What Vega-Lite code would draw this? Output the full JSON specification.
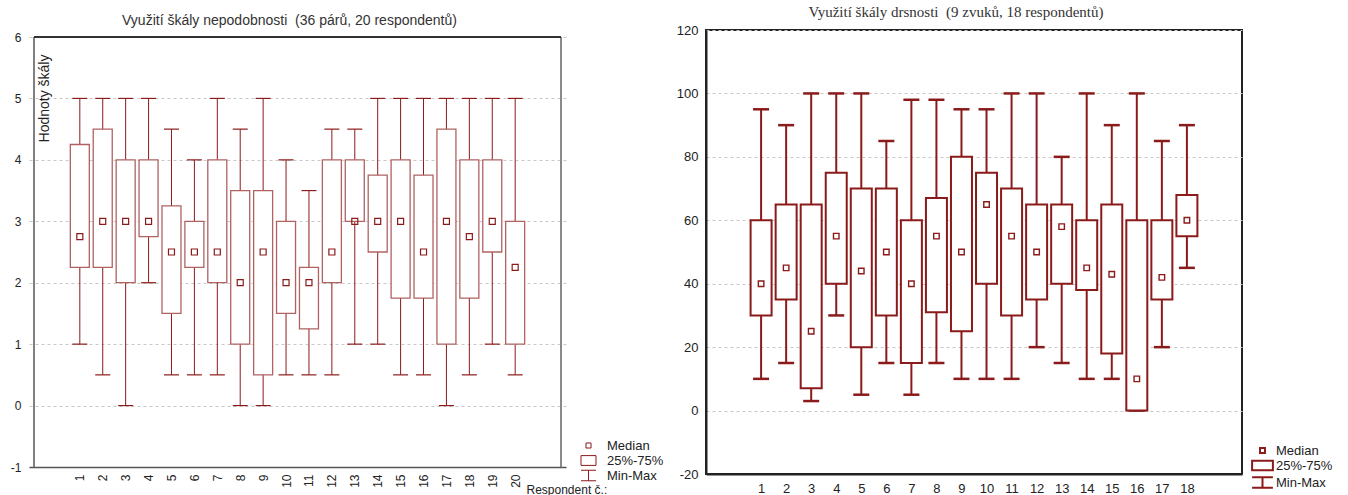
{
  "$schema": "https://vega.github.io/schema/vega-lite/v6.json",
  "padding": {"left": 10, "top": 4, "right": 5, "bottom": 0},
  "spacing": 11,
  "background": "white",
  "config": {"font": "Liberation Sans", "title": {"font": "Liberation Sans"}, "axis": {"labelFont": "Liberation Sans", "titleFont": "Liberation Sans"}},
  "resolve": {"scale": {"shape": "independent"}, "legend": {"shape": "independent"}},
  "hconcat": [
    {
      "width": 537,
      "height": 437,
      "title": {"text": "Využití škály nepodobnosti\u00a0\u00a0(36 párů, 20 respondentů)", "font": "Liberation Sans", "fontSize": 14, "fontWeight": "normal", "color": "#333", "offset": 2, "dx": -8},
      "view": {"stroke": null},
      "data": {"values": [
        {"r": 1, "min": 1, "q1": 2.25, "med": 2.75, "q3": 4.25, "max": 5},
        {"r": 2, "min": 0.5, "q1": 2.25, "med": 3, "q3": 4.5, "max": 5},
        {"r": 3, "min": 0, "q1": 2, "med": 3, "q3": 4, "max": 5},
        {"r": 4, "min": 2, "q1": 2.75, "med": 3, "q3": 4, "max": 5},
        {"r": 5, "min": 0.5, "q1": 1.5, "med": 2.5, "q3": 3.25, "max": 4.5},
        {"r": 6, "min": 0.5, "q1": 2.25, "med": 2.5, "q3": 3, "max": 4},
        {"r": 7, "min": 0.5, "q1": 2, "med": 2.5, "q3": 4, "max": 5},
        {"r": 8, "min": 0, "q1": 1, "med": 2, "q3": 3.5, "max": 4.5},
        {"r": 9, "min": 0, "q1": 0.5, "med": 2.5, "q3": 3.5, "max": 5},
        {"r": 10, "min": 0.5, "q1": 1.5, "med": 2, "q3": 3, "max": 4},
        {"r": 11, "min": 0.5, "q1": 1.25, "med": 2, "q3": 2.25, "max": 3.5},
        {"r": 12, "min": 0.5, "q1": 2, "med": 2.5, "q3": 4, "max": 4.5},
        {"r": 13, "min": 1, "q1": 3, "med": 3, "q3": 4, "max": 4.5},
        {"r": 14, "min": 1, "q1": 2.5, "med": 3, "q3": 3.75, "max": 5},
        {"r": 15, "min": 0.5, "q1": 1.75, "med": 3, "q3": 4, "max": 5},
        {"r": 16, "min": 0.5, "q1": 1.75, "med": 2.5, "q3": 3.75, "max": 5},
        {"r": 17, "min": 0, "q1": 1, "med": 3, "q3": 4.5, "max": 5},
        {"r": 18, "min": 0.5, "q1": 1.75, "med": 2.75, "q3": 4, "max": 5},
        {"r": 19, "min": 1, "q1": 2.5, "med": 3, "q3": 4, "max": 5},
        {"r": 20, "min": 0.5, "q1": 1, "med": 2.25, "q3": 3, "max": 5}
      ]},
      "encoding": {
        "x": {"field": "r", "type": "quantitative", "title": "Respondent č.:",
          "scale": {"domain": [-1, 22], "nice": false, "zero": false},
          "axis": {"values": [0,1,2,3,4,5,6,7,8,9,10,11,12,13,14,15,16,17,18,19,20,21],
            "labelExpr": "datum.value >= 1 && datum.value <= 20 ? datum.label : ''",
            "labelAngle": -90, "labelAlign": "right", "labelBaseline": "middle", "labelFontSize": 12, "labelColor": "#222", "labelPadding": 7,
            "grid": false, "ticks": false, "domainColor": "#555", "domainWidth": 1.5,
            "titleX": 497, "titleY": 22, "titleAlign": "left", "titleBaseline": "middle", "titleFontSize": 12, "titleFontWeight": "normal", "titleColor": "#222"}}
      },
      "layer": [
        {
          "mark": {"type": "rule", "color": "#8b1a1a", "strokeWidth": 1},
          "encoding": {
            "y": {"field": "min", "type": "quantitative", "title": "Hodnoty škály",
              "scale": {"domain": [-1, 6.114], "nice": false, "zero": false},
              "axis": {"values": [-1,0,1,2,3,4,5,6], "labelExpr": "'' + datum.value", "grid": true, "gridDash": [3,3], "gridColor": "#c8c8c8", "ticks": false,
                "domain": false, "labelPadding": 8, "labelFontSize": 12, "labelColor": "#222",
                "titleX": 15, "titleY": 68, "titleAngle": -90, "titleAlign": "center", "titleBaseline": "middle", "titleFontSize": 14, "titleFontWeight": "normal", "titleColor": "#222"}},
            "y2": {"field": "max"}
          }
        },
        {
          "mark": {"type": "point", "shape": "M-1,0H1", "size": 225, "filled": false, "color": "#8b1a1a", "strokeWidth": 1.2, "opacity": 1},
          "encoding": {"y": {"field": "min", "type": "quantitative", "title": "Hodnoty škály"}}
        },
        {
          "mark": {"type": "point", "shape": "M-1,0H1", "size": 225, "filled": false, "color": "#8b1a1a", "strokeWidth": 1.2, "opacity": 1},
          "encoding": {"y": {"field": "max", "type": "quantitative", "title": "Hodnoty škály"}}
        },
        {
          "mark": {"type": "bar", "width": 19, "fill": "white", "stroke": "#b06262", "strokeWidth": 1.3},
          "encoding": {"y": {"field": "q1", "type": "quantitative", "title": "Hodnoty škály"}, "y2": {"field": "q3"}}
        },
        {
          "mark": {"type": "point", "filled": false, "color": "#8b1a1a", "size": 278, "strokeWidth": 1.2, "opacity": 1},
          "encoding": {
            "y": {"field": "med", "type": "quantitative", "title": "Hodnoty škály"},
            "shape": {"datum": "Median",
              "scale": {"domain": ["Median", "25%-75%", "Min-Max"],
                "range": ["M-0.36,-0.36H0.36V0.36H-0.36Z", "M-1.07,-0.7H1.07V0.7H-1.07Z", "M-1.07,-0.75H1.07M0,-0.75V0.75M-1.07,0.75H1.07"]},
              "legend": {"orient": "none", "legendX": 552, "legendY": 408, "title": null, "symbolSize": 196,
                "symbolStrokeColor": "#8b1a1a", "symbolFillColor": "transparent", "symbolStrokeWidth": 1,
                "labelFontSize": 13, "labelFont": "Liberation Sans", "labelColor": "#222", "labelOffset": 11, "rowPadding": -1}}
          }
        },
        {
          "mark": {"type": "rule", "color": "#808080", "strokeWidth": 2},
          "encoding": {"x": {"datum": -1}, "y": {"datum": -1}, "y2": {"datum": 6}}
        },
        {
          "mark": {"type": "rule", "color": "#8a8a8a", "strokeWidth": 2},
          "encoding": {"x": {"datum": 22}, "y": {"datum": -1}, "y2": {"datum": 6}}
        },
        {
          "mark": {"type": "rule", "color": "#333", "strokeWidth": 1},
          "encoding": {"y": {"datum": 6}, "x": {"datum": -1}, "x2": {"datum": 22}}
        }
      ]
    },
    {
      "width": 536,
      "height": 444,
      "title": {"text": "Využití škály drsnosti\u00a0\u00a0(9 zvuků, 18 respondentů)", "font": "Liberation Serif", "fontSize": 15, "fontWeight": "normal", "color": "#333", "offset": 4, "dx": -18},
      "view": {"stroke": "#222", "strokeWidth": 2},
      "data": {"values": [
        {"r": 1, "min": 10, "q1": 30, "med": 40, "q3": 60, "max": 95},
        {"r": 2, "min": 15, "q1": 35, "med": 45, "q3": 65, "max": 90},
        {"r": 3, "min": 3, "q1": 7, "med": 25, "q3": 65, "max": 100},
        {"r": 4, "min": 30, "q1": 40, "med": 55, "q3": 75, "max": 100},
        {"r": 5, "min": 5, "q1": 20, "med": 44, "q3": 70, "max": 100},
        {"r": 6, "min": 15, "q1": 30, "med": 50, "q3": 70, "max": 85},
        {"r": 7, "min": 5, "q1": 15, "med": 40, "q3": 60, "max": 98},
        {"r": 8, "min": 15, "q1": 31, "med": 55, "q3": 67, "max": 98},
        {"r": 9, "min": 10, "q1": 25, "med": 50, "q3": 80, "max": 95},
        {"r": 10, "min": 10, "q1": 40, "med": 65, "q3": 75, "max": 95},
        {"r": 11, "min": 10, "q1": 30, "med": 55, "q3": 70, "max": 100},
        {"r": 12, "min": 20, "q1": 35, "med": 50, "q3": 65, "max": 100},
        {"r": 13, "min": 15, "q1": 40, "med": 58, "q3": 65, "max": 80},
        {"r": 14, "min": 10, "q1": 38, "med": 45, "q3": 60, "max": 100},
        {"r": 15, "min": 10, "q1": 18, "med": 43, "q3": 65, "max": 90},
        {"r": 16, "min": 0, "q1": 0, "med": 10, "q3": 60, "max": 100},
        {"r": 17, "min": 20, "q1": 35, "med": 42, "q3": 60, "max": 85},
        {"r": 18, "min": 45, "q1": 55, "med": 60, "q3": 68, "max": 90}
      ]},
      "encoding": {
        "x": {"field": "r", "type": "quantitative", "title": null,
          "scale": {"domain": [-1, 20], "nice": false, "zero": false},
          "axis": {"values": [0,1,2,3,4,5,6,7,8,9,10,11,12,13,14,15,16,17,18,19],
            "labelExpr": "datum.value >= 1 && datum.value <= 18 ? datum.label : ''",
            "labelAngle": 0, "labelFontSize": 13, "labelColor": "#222", "labelPadding": 8,
            "grid": false, "ticks": false, "domainColor": "#222", "domainWidth": 2}}
      },
      "layer": [
        {
          "mark": {"type": "rule", "color": "#8b1a1a", "strokeWidth": 2},
          "encoding": {
            "y": {"field": "min", "type": "quantitative", "title": null,
              "scale": {"domain": [-20, 120], "nice": false, "zero": false},
              "axis": {"values": [-20,0,20,40,60,80,100,120], "labelExpr": "'' + datum.value", "grid": true, "gridDash": [3,3], "gridColor": "#c8c8c8", "ticks": false,
                "domainColor": "#222", "domainWidth": 2, "labelPadding": 8, "labelFontSize": 13, "labelColor": "#222"}},
            "y2": {"field": "max"}
          }
        },
        {
          "mark": {"type": "point", "shape": "M-1,0H1", "size": 256, "filled": false, "color": "#8b1a1a", "strokeWidth": 2.5, "opacity": 1},
          "encoding": {"y": {"field": "min", "type": "quantitative", "title": null}}
        },
        {
          "mark": {"type": "point", "shape": "M-1,0H1", "size": 256, "filled": false, "color": "#8b1a1a", "strokeWidth": 2.5, "opacity": 1},
          "encoding": {"y": {"field": "max", "type": "quantitative", "title": null}}
        },
        {
          "mark": {"type": "bar", "width": 21, "fill": "white", "stroke": "#8b1a1a", "strokeWidth": 2},
          "encoding": {"y": {"field": "q1", "type": "quantitative", "title": null}, "y2": {"field": "q3"}}
        },
        {
          "mark": {"type": "point", "filled": false, "color": "#8b1a1a", "size": 210, "strokeWidth": 1.4, "opacity": 1},
          "encoding": {
            "y": {"field": "med", "type": "quantitative", "title": null},
            "shape": {"datum": "Median",
              "scale": {"domain": ["Median", "25%-75%", "Min-Max"],
                "range": ["M-0.38,-0.38H0.38V0.38H-0.38Z", "M-1.6,-0.72H1.6V0.72H-1.6Z", "M-1.6,-0.8H1.6M0,-0.8V0.8M-1.6,0.8H1.6"]},
              "legend": {"orient": "none", "legendX": 549, "legendY": 413, "title": null, "symbolSize": 169,
                "symbolStrokeColor": "#8b1a1a", "symbolFillColor": "transparent", "symbolStrokeWidth": 2,
                "labelFontSize": 13, "labelFont": "Liberation Sans", "labelColor": "#222", "labelOffset": 6, "rowPadding": -5}}
          }
        }
      ]
    }
  ]
}
